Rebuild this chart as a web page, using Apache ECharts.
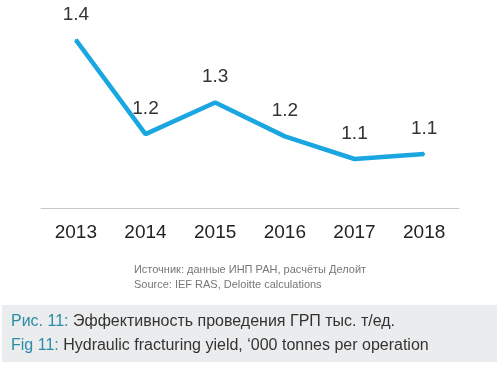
<!DOCTYPE html>
<html><head><meta charset="utf-8">
<script src="https://cdn.jsdelivr.net/npm/echarts@6/dist/echarts.min.js"></script>
<style>html,body{margin:0;padding:0;background:#fff}#c{width:500px;height:365px}</style>
</head><body><div id="c"></div>
<script>
const years = ['2013','2014','2015','2016','2017','2018'];
const yieldValues = [1.426, 1.176, 1.26, 1.17, 1.11, 1.123];
const sourceLines = ['Источник: данные ИНП РАН, расчёты Делойт', 'Source: IEF RAS, Deloitte calculations'];
const captionRu = ['Рис. 11:', ' Эффективность проведения ГРП тыс. т/ед.'];
const captionEn = ['Fig 11:', ' Hydraulic fracturing yield, ‘000 tonnes per operation'];

const chart = echarts.init(document.getElementById('c'));
const font = 'Liberation Sans, Arial, sans-serif';
chart.setOption({
  backgroundColor: '#fff',
  animation: false,
  grid: {left: 41, right: 41, top: 12, bottom: 157},
  xAxis: {
    type: 'category', data: years, boundaryGap: true,
    axisLine: {show: true, lineStyle: {color: '#c8c8c8', width: 1}},
    axisTick: {show: false},
    axisLabel: {color: '#222', fontSize: 19, fontFamily: font, margin: 15}
  },
  yAxis: {
    type: 'value', min: 0.98, max: 1.5,
    show: false, splitLine: {show: false}
  },
  series: [{
    type: 'line', data: yieldValues,
    symbol: 'circle', symbolSize: 2, showSymbol: true,
    itemStyle: {color: '#1aa6e0'},
    lineStyle: {color: '#1aa6e0', width: 4.5},
    label: {
      show: true, position: 'top', distance: 15,
      color: '#333', fontSize: 19, fontFamily: font,
      formatter: p => p.value.toFixed(1)
    }
  }],
  graphic: [
    {type: 'text', left: 'center', top: 262, style: {text: sourceLines.join('\n'), fill: '#777', fontSize: 11, fontFamily: font, align: 'center', lineHeight: 15}},
    {type: 'rect', shape: {x: 2, y: 305, width: 495, height: 57}, style: {fill: '#ebeced'}},
    {type: 'text', left: 11, top: 310, style: {
      rich: {b: {fill: '#2a8ca8', fontSize: 16, fontFamily: font}, t: {fill: '#333', fontSize: 16, fontFamily: font}},
      text: '{b|' + captionRu[0] + '}{t|' + captionRu[1] + '}\n{b|' + captionEn[0] + '}{t|' + captionEn[1] + '}',
      lineHeight: 24
    }}
  ]
});
</script></body></html>
